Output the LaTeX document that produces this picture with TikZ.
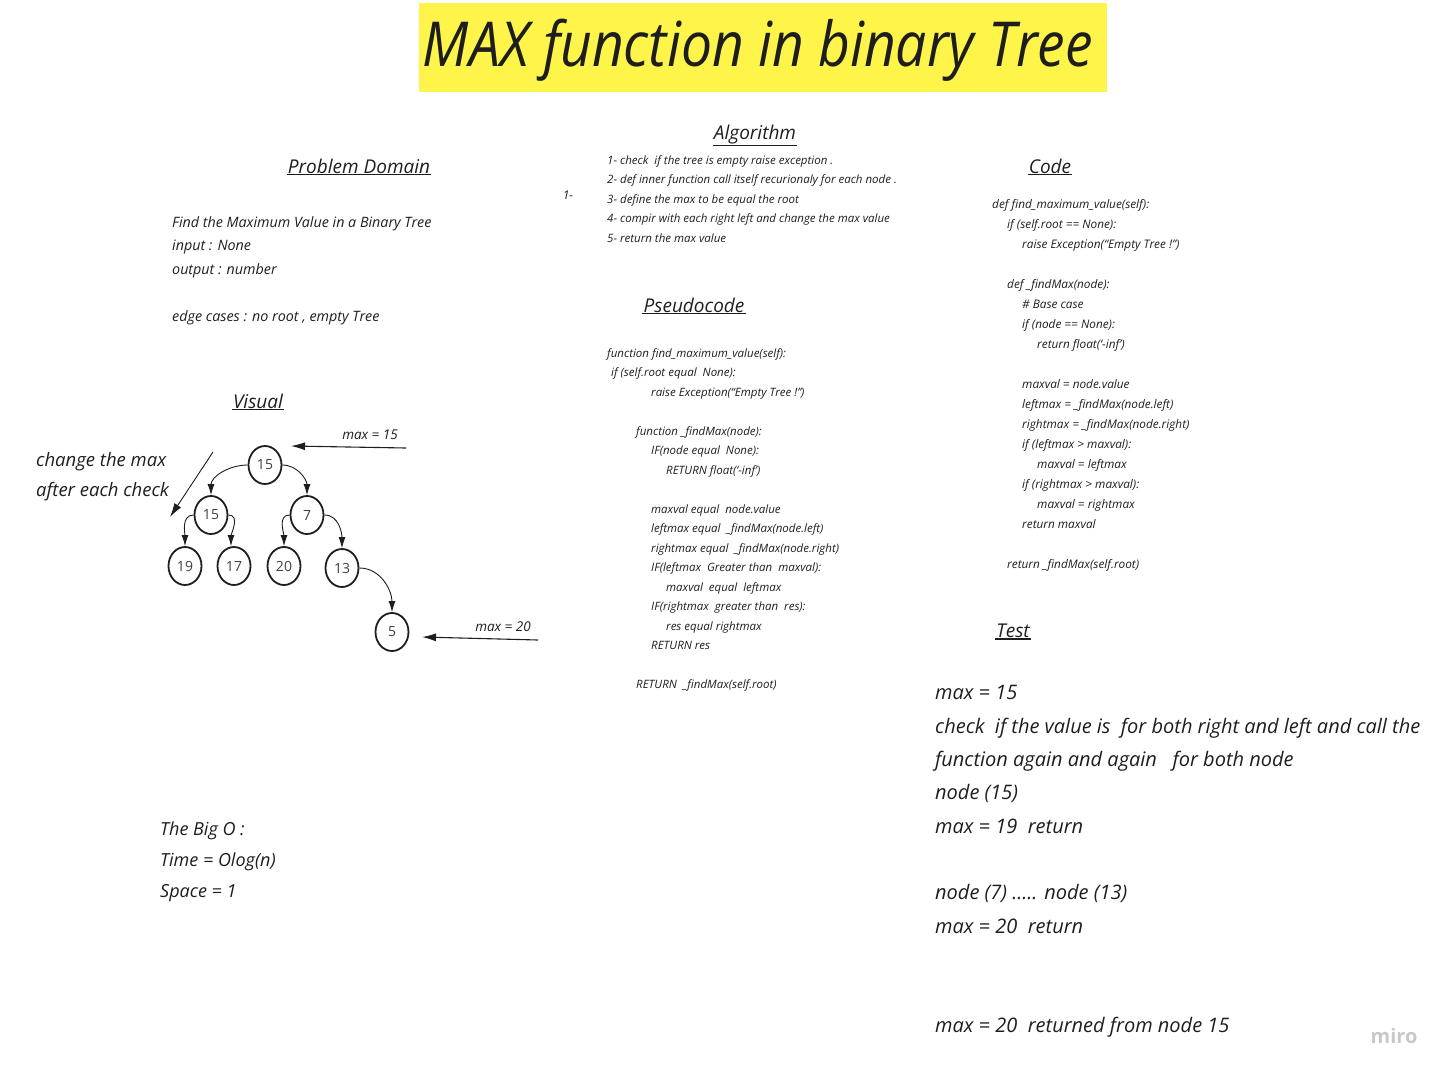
\documentclass[tikz,border=0pt]{standalone}
\usepackage{fontspec}
\setmainfont{Open Sans}
\usetikzlibrary{
  arrows.meta,
  positioning,
  shapes.geometric
}
\definecolor{ink}{HTML}{1E1E1E}
\definecolor{titleyellow}{HTML}{FFF54A}
\definecolor{mirogray}{HTML}{C8C8C8}

\begin{document}
\begin{tikzpicture}[
  x=1pt, y=-1pt,
  titlebox/.style={
    fill=titleyellow, minimum width=688pt, minimum height=89pt,
    inner sep=0pt
  },
  titletext/.style={
    text=ink, inner sep=0pt,
    font=\itshape\fontsize{62}{66}\selectfont
  },
  heading/.style={
    font=\itshape\fontsize{19}{22}\selectfont, text=ink, inner sep=1pt
  },
  uline/.style={draw=ink, line width=1.4pt},
  notes/.style={
    align=left, anchor=north west, inner sep=0pt, text=ink
  },
  treenode/.style={
    ellipse, draw=ink, line width=1.8pt,
    minimum width=33pt, minimum height=38pt, inner sep=0pt,
    font=\fontsize{14}{16}\selectfont, text=ink!85
  },
  childarrow/.style={
    -{Latex[length=11pt,width=7pt]}, draw=ink, line width=0.9pt
  },
  maxarrow/.style={
    -{Latex[length=14pt,width=8pt]}, draw=ink, line width=1.1pt
  },
  maxlabel/.style={
    font=\itshape\fontsize{13.5}{15}\selectfont, text=ink
  }
]
\useasboundingbox (0,0) rectangle (1450,1076);

% Title banner
\node[titlebox] (title) at (763,47.5) {};
\node[titletext] (titleText) at (758,50) {\scalebox{0.89}[1]{MAX function in binary Tree}};

% Section headings
\node[heading] (probHead) at (359,166) {Problem Domain};
\node[heading] (algoHead) at (755,135) {Algorithm};
\node[heading] (pseudoHead) at (694,305) {Pseudocode};
\node[heading] (codeHead) at (1050,166) {Code};
\node[heading] (visualHead) at (258,401) {Visual};
\node[heading] (testHead) at (1013,631) {Test};
\foreach \h in {probHead, algoHead, pseudoHead, codeHead, visualHead, testHead}
  \draw[uline] (\h.south west) -- (\h.south east);

% Problem domain
\node[notes, font=\itshape\fontsize{14.3}{23.5}\selectfont] (probText) at (172,216)
  {Find the Maximum Value in a Binary Tree\\
   input : None\\
   output : number\\[23.5pt]
   edge cases : no root , empty Tree};

% Algorithm
\node[notes, font=\itshape\fontsize{11.5}{19.5}\selectfont] (algoText) at (607,155)
  {1- check~ if the tree is empty raise exception .\\
   2- def inner function call itself recurionaly for each node .\\
   3- define the max to be equal the root\\
   4- compir with each right left and change the max value\\
   5- return the max value};
\node[font=\itshape\fontsize{12}{14}\selectfont, text=ink] (algoNum) at (568,195) {1-};

% Pseudocode
\node[notes, font=\itshape\fontsize{11.5}{19.5}\selectfont] (pseudoText) at (607,348)
  {function find\_maximum\_value(self):\\
   \hspace*{4pt}if (self.root equal~ None):\\
   \hspace*{44pt}raise Exception(``Empty Tree !'')\\[19.5pt]
   \hspace*{29pt}function \_findMax(node):\\
   \hspace*{44pt}IF(node equal~ None):\\
   \hspace*{59pt}RETURN float(`-inf')\\[19.5pt]
   \hspace*{44pt}maxval equal~ node.value\\
   \hspace*{44pt}leftmax equal~ \_findMax(node.left)\\
   \hspace*{44pt}rightmax equal~ \_findMax(node.right)\\
   \hspace*{44pt}IF(leftmax~ Greater than~ maxval):\\
   \hspace*{59pt}maxval~ equal~ leftmax\\
   \hspace*{44pt}IF(rightmax~ greater than~ res):\\
   \hspace*{59pt}res equal rightmax\\
   \hspace*{44pt}RETURN res\\[19.5pt]
   \hspace*{29pt}RETURN~ \_findMax(self.root)};

% Code
\node[notes, font=\itshape\fontsize{11.8}{20}\selectfont] (codeText) at (992,199.5)
  {def find\_maximum\_value(self):\\
   \hspace*{15pt}if (self.root == None):\\
   \hspace*{30pt}raise Exception(``Empty Tree !'')\\[20pt]
   \hspace*{15pt}def \_findMax(node):\\
   \hspace*{30pt}\# Base case\\
   \hspace*{30pt}if (node == None):\\
   \hspace*{45pt}return float(`-inf')\\[20pt]
   \hspace*{30pt}maxval = node.value\\
   \hspace*{30pt}leftmax = \_findMax(node.left)\\
   \hspace*{30pt}rightmax = \_findMax(node.right)\\
   \hspace*{30pt}if (leftmax > maxval):\\
   \hspace*{45pt}maxval = leftmax\\
   \hspace*{30pt}if (rightmax > maxval):\\
   \hspace*{45pt}maxval = rightmax\\
   \hspace*{30pt}return maxval\\[20pt]
   \hspace*{15pt}return \_findMax(self.root)};

% Test
\node[notes, font=\itshape\fontsize{20}{33.3}\selectfont] (testText) at (935,685.5)
  {max = 15\\
   check~ if the value is~ for both right and left and call the\\
   function again and again~~ for both node\\
   node (15)\\
   max = 19~ return\\[33.3pt]
   node (7) ..... node (13)\\
   max = 20~ return\\[66.6pt]
   max = 20~ returned from node 15};

% Big O
\node[notes, font=\itshape\fontsize{18}{31}\selectfont] (bigO) at (160,822)
  {The Big O :\\
   Time = Olog(n)\\
   Space = 1};

% Visual: the tree
\node[treenode] (root) at (265,465) {15};
\node[treenode] (lft) at (211,515) {15};
\node[treenode] (rgt) at (307,515) {7};
\node[treenode] (ll) at (185,566) {19};
\node[treenode] (lr) at (234,566) {17};
\node[treenode] (rl) at (284,566) {20};
\node[treenode] (rr) at (342,568) {13};
\node[treenode] (rrr) at (392,632) {5};

\draw[childarrow] (root.west) to[out=180,in=90] (lft.north);
\draw[childarrow] (root.east) to[out=0,in=90] (rgt.north);
\draw[childarrow] (lft.west) to[out=180,in=90] (ll.north);
\draw[childarrow] (lft.east) to[out=0,in=90] ([xshift=-3pt]lr.north);
\draw[childarrow] (rgt.west) to[out=180,in=90] (rl.north);
\draw[childarrow] (rgt.east) to[out=0,in=90] (rr.north);
\draw[childarrow] (rr.east) to[out=0,in=90] (rrr.north);

% Max markers
\node[maxlabel] (maxAlabel) at (370,435) {max = 15};
\coordinate (maxAstart) at (406,448);
\coordinate (maxAend) at (291,446);
\draw[maxarrow] (maxAstart) -- (maxAend);

\node[maxlabel] (maxBlabel) at (503,627) {max = 20};
\coordinate (maxBstart) at (538,640);
\coordinate (maxBend) at (422,637);
\draw[maxarrow] (maxBstart) -- (maxBend);

% Side note
\node[notes, font=\itshape\fontsize{18.5}{30}\selectfont] (changeNote) at (36,452)
  {change the max\\
   after each check};
\coordinate (changeStart) at (213,452);
\coordinate (changeEnd) at (170,517);
\draw[maxarrow, line width=0.9pt] (changeStart) -- (changeEnd);

% Watermark
\node[font=\bfseries\fontsize{20}{22}\selectfont, text=mirogray] (miro) at (1394,1036) {miro};

\end{tikzpicture}
\end{document}
